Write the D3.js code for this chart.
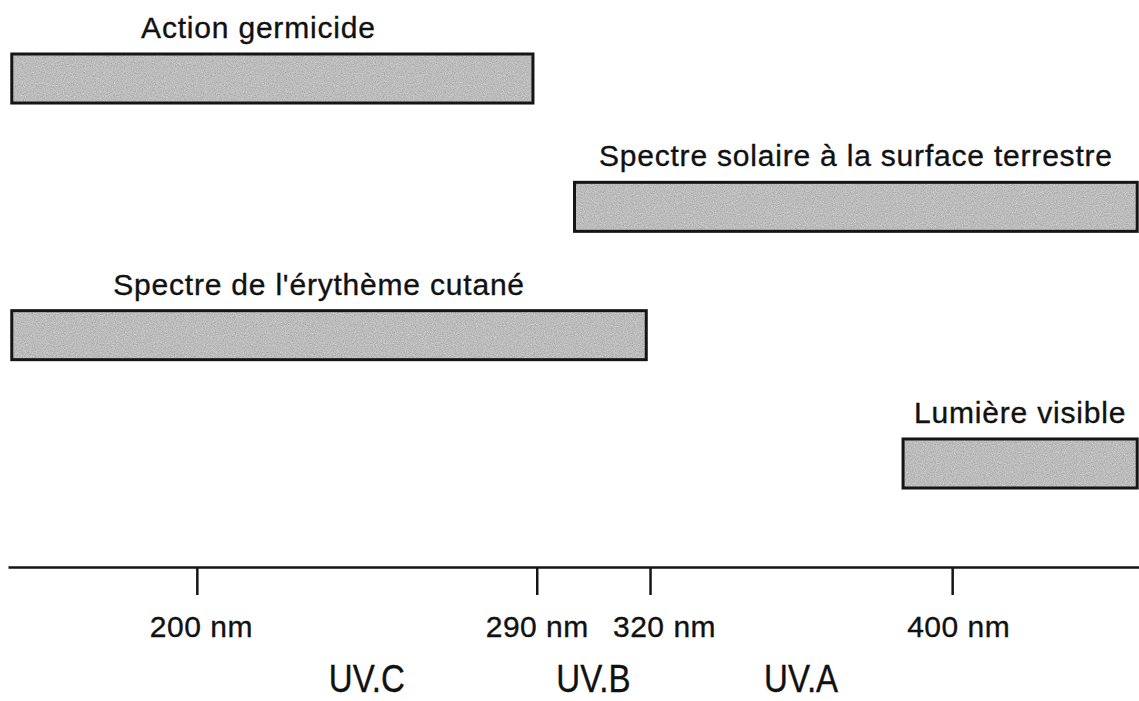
<!DOCTYPE html>
<html>
<head>
<meta charset="utf-8">
<script src="https://cdn.jsdelivr.net/npm/d3@7"></script>
<style>
    body { margin: 0; background: #fff; }
    #chart { width: 1139px; height: 701px; overflow: hidden; }
    text { font-family: "Liberation Sans", Arial, Helvetica, sans-serif; fill: #111; stroke: #111; stroke-width: 0.35px; }
</style>
</head>
<body>
<div id="chart"></div>
<script>
// spectral ranges (nm)
const rangeNames = ['Action germicide', 'Spectre solaire à la surface terrestre', "Spectre de l'érythème cutané", 'Lumière visible'];
const rangeStart = [151, 300, 151, 387];
const rangeEnd = [289, 449, 319, 449];

// axis ticks
const tickValues = [200, 290, 320, 400];
const tickLabels = ['200 nm', '290 nm', '320 nm', '400 nm'];

// UV bands shown under the axis
const bandNames = ['UV.C', 'UV.B', 'UV.A'];
const bandFrom = [200, 290, 320];
const bandTo = [290, 320, 400];

const width = 1139;
const height = 701;

const svg = d3.select('#chart')
    .append('svg')
    .attr('width', width)
    .attr('height', height);

// grainy gray fill like the printed original
const filter = svg.append('defs').append('filter')
    .attr('id', 'grain')
    .attr('color-interpolation-filters', 'sRGB')
    .attr('x', 0).attr('y', 0).attr('width', 1).attr('height', 1);
filter.append('feTurbulence')
    .attr('type', 'fractalNoise')
    .attr('baseFrequency', 0.9)
    .attr('numOctaves', 2)
    .attr('seed', 4);
filter.append('feColorMatrix')
    .attr('type', 'matrix')
    .attr('values', '0.33 0.33 0.33 0 0  0.33 0.33 0.33 0 0  0.33 0.33 0.33 0 0  0 0 0 0 1');
const ct = filter.append('feComponentTransfer');
['feFuncR', 'feFuncG', 'feFuncB'].forEach(f => {
    ct.append(f).attr('type', 'linear').attr('slope', 0.4).attr('intercept', 0.54);
});
filter.append('feComposite')
    .attr('in2', 'SourceGraphic')
    .attr('operator', 'in');

// scales
const x = d3.scaleLinear()
    .domain([150, 450])
    .range([8, 1141]);

const y = d3.scaleBand()
    .domain(rangeNames)
    .range([54, 488])
    .paddingInner(0.618)
    .paddingOuter(0);

const ranges = rangeNames.map((name, i) => ({ name: name, start: rangeStart[i], end: rangeEnd[i] }));

// small nudges so labels sit where the original put them
const labelShift = { 'Action germicide': -14, "Spectre de l'érythème cutané": -10 };

const bars = svg.append('g')
    .selectAll('g')
    .data(ranges)
    .join('g');

bars.append('rect')
    .attr('x', d => x(d.start))
    .attr('y', d => y(d.name))
    .attr('width', d => x(d.end) - x(d.start))
    .attr('height', y.bandwidth())
    .attr('fill', '#bbbbbb')
    .attr('filter', 'url(#grain)');

bars.append('rect')
    .attr('x', d => x(d.start))
    .attr('y', d => y(d.name))
    .attr('width', d => x(d.end) - x(d.start))
    .attr('height', y.bandwidth())
    .attr('fill', 'none')
    .attr('stroke', '#151515')
    .attr('stroke-width', 3);

bars.append('text')
    .attr('x', d => (x(d.start) + x(d.end)) / 2 + (labelShift[d.name] || 0))
    .attr('y', d => y(d.name) - 16)
    .attr('text-anchor', 'middle')
    .attr('font-size', 30)
    .attr('letter-spacing', 0.8)
    .text(d => d.name);

// wavelength axis
const axisY = 567;
const axis = svg.append('g')
    .attr('transform', 'translate(0,' + axisY + ')')
    .call(d3.axisBottom(x)
        .tickValues(tickValues)
        .tickSize(28)
        .tickSizeOuter(0)
        .tickFormat((d, i) => tickLabels[i]));

axis.select('.domain')
    .attr('stroke', '#151515')
    .attr('stroke-width', 2.5);

axis.selectAll('.tick line')
    .attr('stroke', '#151515')
    .attr('stroke-width', 2.5);

const tickShift = { 320: 14, 400: 6, 200: 4 };
axis.selectAll('.tick text')
    .attr('font-family', '"Liberation Sans", Arial, sans-serif')
    .attr('font-size', 30)
    .attr('letter-spacing', 0.5)
    .attr('fill', '#111')
    .attr('y', 70)
    .attr('dy', 0)
    .attr('x', d => tickShift[d] || 0);

// UV band names centred on each band
const bands = bandNames.map((name, i) => ({ name: name, mid: (bandFrom[i] + bandTo[i]) / 2 }));

svg.append('g')
    .selectAll('text')
    .data(bands)
    .join('text')
    .attr('transform', d => 'translate(' + x(d.mid) + ',' + 692 + ') scale(0.87,1)')
    .attr('text-anchor', 'middle')
    .attr('font-size', 38)
    .text(d => d.name);
</script>
</body>
</html>
